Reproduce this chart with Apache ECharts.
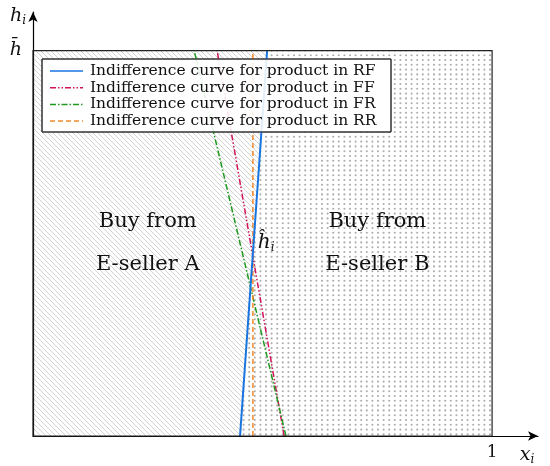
<!DOCTYPE html>
<html>
<head>
<meta charset="UTF-8">
<script src="https://cdn.jsdelivr.net/npm/echarts@6/dist/echarts.min.js"></script>
<style>
  html, body { margin: 0; padding: 0; background: #fff; }
  #chart { width: 550px; height: 466px; }
</style>
</head>
<body>
<div id="chart"></div>
<script>
// x_i where each indifference curve sits, at h_i = 0 and at h_i = h-bar
const hLevels = [0, 1];
const rfX = [0.451, 0.510];
const ffX = [0.547, 0.401];
const frX = [0.551, 0.351];
const rrX = [0.479, 0.479];
const curveNames = [
  'Indifference curve for product in RF',
  'Indifference curve for product in FF',
  'Indifference curve for product in FR',
  'Indifference curve for product in RR'
];
const regionText = ['Buy from\nE-seller A', 'Buy from\nE-seller B'];
const xTickLabels = ['', '1'];
const yTickLabels = ['', 'h\u0304'];

const serif = 'DejaVu Serif';

// one style per curve (same order as curveNames)
const curveStyles = [
  { color: '#1874e0', width: 2, dash: null },
  { color: '#d0135a', width: 1.5, dash: [6, 2, 1.5, 2, 1.5, 2] },
  { color: '#1e9a1e', width: 1.5, dash: [6, 2, 1.5, 2] },
  { color: '#f5892a', width: 1.5, dash: [5, 3] }
];
const curveXs = [rfX, ffX, frX, rrX];

// legend box, in pixels
const legendBox = { left: 42, top: 59, width: 349, height: 73 };

// fill patterns
function hatchPattern() {
  const c = document.createElement('canvas');
  c.width = 5; c.height = 5;
  const g = c.getContext('2d');
  g.fillStyle = '#fff';
  g.fillRect(0, 0, 5, 5);
  g.strokeStyle = '#cdcdcd';
  g.lineWidth = 0.9;
  [-5, 0, 5].forEach(k => {
    g.beginPath();
    g.moveTo(k, 0);
    g.lineTo(k + 5, 5);
    g.stroke();
  });
  return c;
}
function dotPattern() {
  const c = document.createElement('canvas');
  c.width = 28; c.height = 24;
  const g = c.getContext('2d');
  g.fillStyle = '#fff';
  g.fillRect(0, 0, 28, 24);
  g.fillStyle = '#adadad';
  for (let i = 0; i < 5; i++) {
    for (let j = 0; j < 5; j++) {
      g.beginPath();
      g.arc(i * 5.6 + 2.8, j * 4.8 + 2.4, 1.05, 0, Math.PI * 2);
      g.fill();
    }
  }
  return c;
}
const hatch = hatchPattern();
const dots = dotPattern();

function curve(xs) {
  return xs.map((x, i) => [x, hLevels[i]]);
}

const chart = echarts.init(document.getElementById('chart'));

const option = {
  animation: false,
  backgroundColor: '#fff',
  grid: { left: 33, right: 12, top: 12, bottom: 30 },
  xAxis: {
    type: 'value', min: 0, max: 1.1, interval: 1,
    splitLine: { show: false },
    axisTick: { show: false },
    axisLine: { lineStyle: { color: '#000', width: 1.2 }, symbol: ['none', 'arrow'], symbolSize: [7, 10] },
    axisLabel: {
      showMaxLabel: false, margin: 8,
      fontFamily: serif, fontSize: 17, color: '#111',
      formatter: v => xTickLabels[Math.round(v)] || ''
    },
    name: '{a|x}{b|i}',
    nameLocation: 'end',
    nameGap: -11,
    nameTextStyle: {
      align: 'center', verticalAlign: 'top', padding: [8, 0, 0, 0],
      rich: {
        a: { fontFamily: serif, fontStyle: 'italic', fontSize: 19, color: '#111' },
        b: { fontFamily: serif, fontStyle: 'italic', fontSize: 12, color: '#111', padding: [10, 0, 0, 0] }
      }
    }
  },
  yAxis: {
    type: 'value', min: 0, max: 1.1, interval: 1,
    splitLine: { show: false },
    axisTick: { show: false },
    axisLine: { lineStyle: { color: '#000', width: 1.2 }, symbol: ['none', 'arrow'], symbolSize: [7, 10] },
    axisLabel: {
      showMaxLabel: false, margin: 11,
      fontFamily: serif, fontStyle: 'italic', fontSize: 19, color: '#111',
      formatter: v => yTickLabels[Math.round(v)] || ''
    },
    name: '{a|h}{b|i}',
    nameLocation: 'end',
    nameGap: -4,
    nameTextStyle: {
      align: 'right', verticalAlign: 'middle', padding: [0, 7, 0, 0],
      rich: {
        a: { fontFamily: serif, fontStyle: 'italic', fontSize: 19, color: '#111' },
        b: { fontFamily: serif, fontStyle: 'italic', fontSize: 12, color: '#111', padding: [10, 0, 0, 0] }
      }
    }
  },
  series: [
    {
      // hatched / dotted regions on each side of the RF curve
      type: 'custom',
      silent: true,
      z: 0,
      data: [[0], [1]],
      renderItem: function (params, api) {
        let pts;
        if (params.dataIndex === 0) {
          pts = [[0, hLevels[0]], [rfX[0], hLevels[0]], [rfX[1], hLevels[1]], [0, hLevels[1]]];
        } else {
          pts = [[rfX[0], hLevels[0]], [1, hLevels[0]], [1, hLevels[1]], [rfX[1], hLevels[1]]];
        }
        return {
          type: 'polygon',
          shape: { points: pts.map(p => api.coord(p)) },
          style: { fill: { image: params.dataIndex === 0 ? hatch : dots, repeat: 'repeat' }, stroke: 'none' }
        };
      }
    },
    {
      // legend box background (under the curves, they get faded where they cross it)
      type: 'custom',
      silent: true,
      z: 1,
      data: [[0]],
      renderItem: function () {
        return {
          type: 'rect',
          shape: { x: legendBox.left, y: legendBox.top, width: legendBox.width, height: legendBox.height },
          style: { fill: '#fff', stroke: '#333', lineWidth: 1 }
        };
      }
    },
    {
      // the four indifference curves; blue one drawn last so it sits on top
      type: 'custom',
      silent: true,
      z: 2,
      data: [[1], [2], [3], [0]],
      renderItem: function (params, api) {
        const k = api.value(0);
        const p = curve(curveXs[k]).map(q => api.coord(q));
        const st = curveStyles[k];
        const xAt = y => p[0][0] + (p[1][0] - p[0][0]) * (y - p[0][1]) / (p[1][1] - p[0][1]);
        const yB = legendBox.top + legendBox.height;
        const yT = legendBox.top;
        const seg = (ya, yb, op) => ({
          type: 'line',
          shape: { x1: xAt(ya), y1: ya, x2: xAt(yb), y2: yb },
          style: { stroke: st.color, lineWidth: st.width, lineDash: st.dash, fill: null, opacity: op }
        });
        return {
          type: 'group',
          children: [
            seg(p[0][1], yB, 1),
            seg(yB, yT, 0.12),
            seg(yT, p[1][1], 1)
          ]
        };
      }
    },
    {
      // frame, region labels and legend entries
      type: 'custom',
      silent: true,
      z: 3,
      data: [[0]],
      renderItem: function (params, api) {
        const a = api.coord([0, 1]);
        const b = api.coord([1, 0]);
        const labelA = api.coord([0.25, 0.5]);
        const labelB = api.coord([0.75, 0.5]);
        const hat = api.coord([0.508, 0.5]);
        const txt = (p, s) => ({
          type: 'text', x: p[0], y: p[1],
          style: { text: s, fontFamily: serif, fontSize: 21, fill: '#111', align: 'center', verticalAlign: 'middle', lineHeight: 43 }
        });
        const kids = [
          {
            type: 'rect',
            shape: { x: a[0], y: a[1], width: b[0] - a[0], height: b[1] - a[1] },
            style: { fill: 'none', stroke: '#222', lineWidth: 1.2 }
          },
          {
            type: 'rect',
            shape: { x: legendBox.left, y: legendBox.top, width: legendBox.width, height: legendBox.height },
            style: { fill: 'none', stroke: '#333', lineWidth: 1 }
          },
          txt(labelA, regionText[0]),
          txt(labelB, regionText[1]),
          {
            type: 'text', x: hat[0], y: hat[1],
            style: {
              text: '{a|\u0125}{b|i}', align: 'center', verticalAlign: 'middle',
              rich: {
                a: { fontFamily: serif, fontStyle: 'italic', fontSize: 20, fill: '#111' },
                b: { fontFamily: serif, fontStyle: 'italic', fontSize: 12, fill: '#111', padding: [10, 0, 0, 0] }
              }
            }
          }
        ];
        curveNames.forEach((name, i) => {
          const y = 71 + i * 16.7;
          const st = curveStyles[i];
          kids.push({
            type: 'line',
            shape: { x1: 50, y1: y, x2: 83, y2: y },
            style: { stroke: st.color, lineWidth: 1.5, lineDash: st.dash, fill: null }
          });
          kids.push({
            type: 'text', x: 90, y: y,
            style: { text: name, fontFamily: serif, fontSize: 15.5, fill: '#111', align: 'left', verticalAlign: 'middle' }
          });
        });
        return { type: 'group', children: kids };
      }
    }
  ]
};

chart.setOption(option);
</script>
</body>
</html>
